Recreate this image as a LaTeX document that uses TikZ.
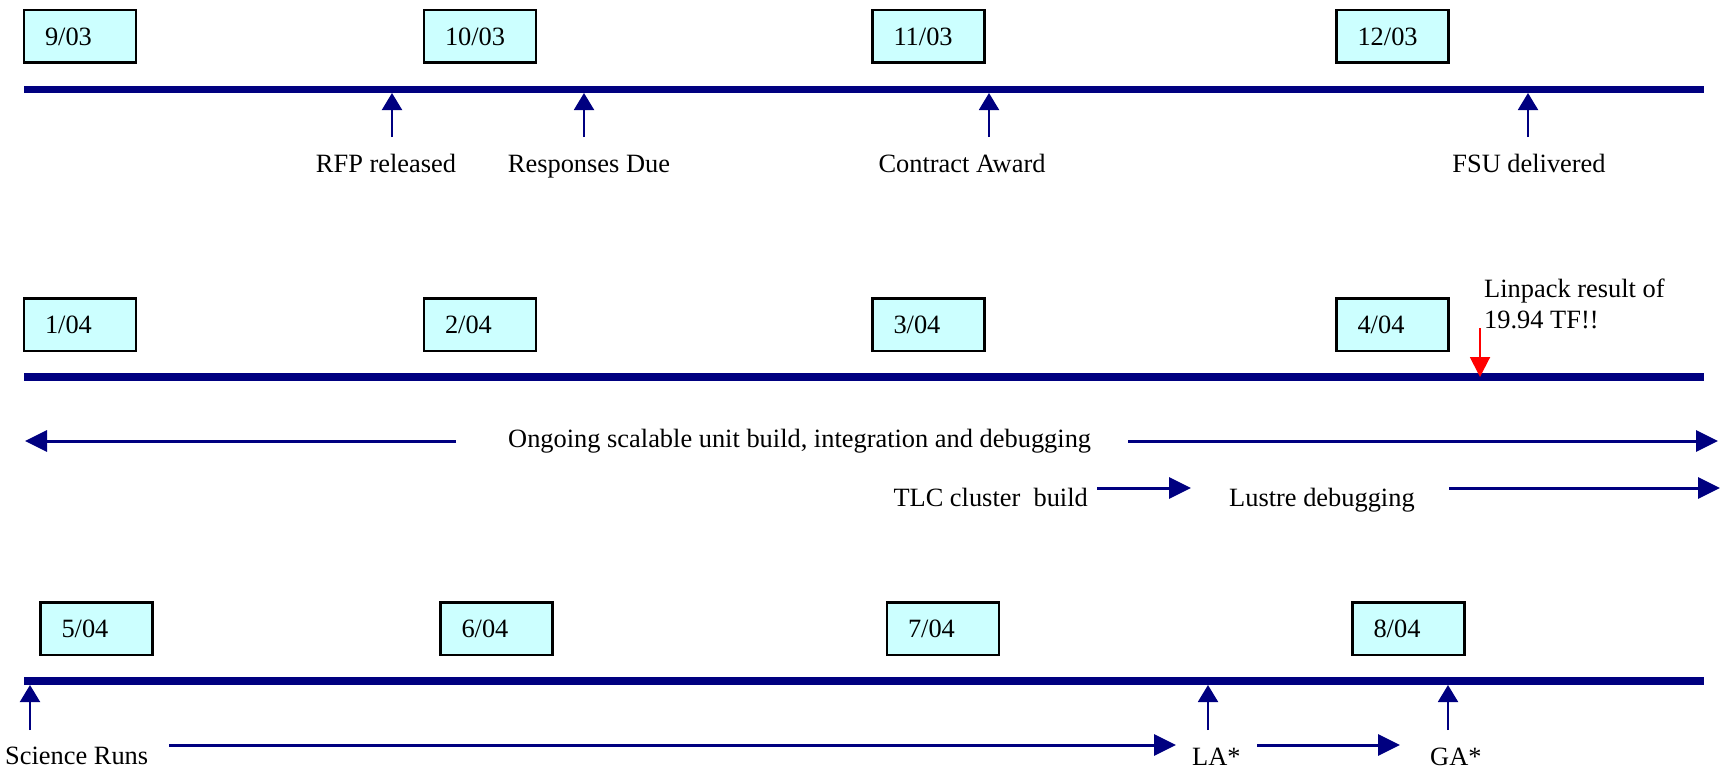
\documentclass[tikz,border=0pt]{standalone}
\usepackage{fontspec}
\setmainfont{Liberation Serif}
\usetikzlibrary{arrows.meta}
\definecolor{navy}{HTML}{000080}
\definecolor{boxfill}{HTML}{CCFFFF}
\begin{document}
\begin{tikzpicture}[x=1pt,y=-1pt,
  every node/.style={font=\fontsize{26.4}{31}\selectfont},
  datebox/.style={draw=black,line width=2.5pt,fill=boxfill,minimum height=52.5pt,
    text width=70pt,inner xsep=21pt,inner ysep=0pt,align=left},
  timeline/.style={navy,line width=7.5pt},
  mile/.style={navy,line width=2pt,-{Triangle[length=17pt,width=20pt]}},
  span/.style={navy,line width=3pt,-{Triangle[length=22pt,width=21pt]}},
  hot/.style={red,line width=2pt,-{Triangle[length=20pt,width=20pt]}},
  lbl/.style={anchor=base,inner sep=0pt},
  lblw/.style={anchor=base west,inner sep=0pt},
  lble/.style={anchor=base east,inner sep=0pt}]
\useasboundingbox (0,0) rectangle (1725,776);

% ---------- row 1 ----------
\node[datebox] (d903)  at (80,36.5)    {9/03};
\node[datebox] (d1003) at (480,36.5)   {10/03};
\node[datebox] (d1103) at (928.5,36.5) {11/03};
\node[datebox] (d1203) at (1392.5,36.5){12/03};
\coordinate (t1s) at (24,89.5);
\coordinate (t1e) at (1704,89.5);
\draw[timeline] (t1s) -- (t1e);

\coordinate (rfpT) at (392,93);  \coordinate (rfpB) at (392,137);
\coordinate (rdT) at (584,93);   \coordinate (rdB) at (584,137);
\coordinate (caT) at (989,93);   \coordinate (caB) at (989,137);
\coordinate (fsuT) at (1528,93); \coordinate (fsuB) at (1528,137);
\draw[mile] (rfpB) -- (rfpT);
\draw[mile] (rdB) -- (rdT);
\draw[mile] (caB) -- (caT);
\draw[mile] (fsuB) -- (fsuT);
\node[lbl] (rfp) at (386,172) {RFP released};
\node[lbl] (rd)  at (589,172) {Responses Due};
\node[lbl] (ca)  at (962,172) {Contract Award};
\node[lbl] (fsu) at (1529,172) {FSU delivered};

% ---------- row 2 ----------
\node[datebox] (d104) at (80,324.5)    {1/04};
\node[datebox] (d204) at (480,324.5)   {2/04};
\node[datebox] (d304) at (928.5,324.5) {3/04};
\node[datebox] (d404) at (1392.5,324.5){4/04};
\coordinate (t2s) at (24,377);
\coordinate (t2e) at (1704,377);
\draw[timeline] (t2s) -- (t2e);

\node[lblw] (lin1) at (1484,297) {Linpack result of};
\node[lblw] (lin2) at (1484,328) {19.94 TF!!};
\coordinate (linT) at (1480,328);
\coordinate (linB) at (1480,377);
\draw[hot] (linT) -- (linB);

\node[lblw] (ongo) at (508,447) {Ongoing scalable unit build, integration and debugging};
\coordinate (ogL1) at (456,441); \coordinate (ogL2) at (25,441);
\coordinate (ogR1) at (1128,441); \coordinate (ogR2) at (1718,441);
\draw[span] (ogL1) -- (ogL2);
\draw[span] (ogR1) -- (ogR2);

\node[lble] (tlc) at (1088,506) {TLC cluster\ \ build};
\node[lblw] (lus) at (1229,506) {Lustre debugging};
\coordinate (tlc1) at (1097,488); \coordinate (tlc2) at (1191,488);
\coordinate (lus1) at (1449,488); \coordinate (lus2) at (1720,488);
\draw[span] (tlc1) -- (tlc2);
\draw[span] (lus1) -- (lus2);

% ---------- row 3 ----------
\node[datebox] (d504) at (96.5,628.5)  {5/04};
\node[datebox] (d604) at (496.5,628.5) {6/04};
\node[datebox] (d704) at (943,628.5)   {7/04};
\node[datebox] (d804) at (1408.5,628.5){8/04};
\coordinate (t3s) at (24,681);
\coordinate (t3e) at (1704,681);
\draw[timeline] (t3s) -- (t3e);

\coordinate (srT) at (30,685);   \coordinate (srB) at (30,730);
\coordinate (laT) at (1208,685); \coordinate (laB) at (1208,730);
\coordinate (gaT) at (1448,685); \coordinate (gaB) at (1448,730);
\draw[mile] (srB) -- (srT);
\draw[mile] (laB) -- (laT);
\draw[mile] (gaB) -- (gaT);

\node[lblw] (sr) at (5,764)    {Science Runs};
\node[lblw] (la) at (1192,765) {LA*};
\node[lblw] (ga) at (1430,765) {GA*};
\coordinate (sr1) at (169,745);  \coordinate (sr2) at (1176,745);
\coordinate (la1) at (1257,745); \coordinate (la2) at (1400,745);
\draw[span] (sr1) -- (sr2);
\draw[span] (la1) -- (la2);
\end{tikzpicture}
\end{document}
